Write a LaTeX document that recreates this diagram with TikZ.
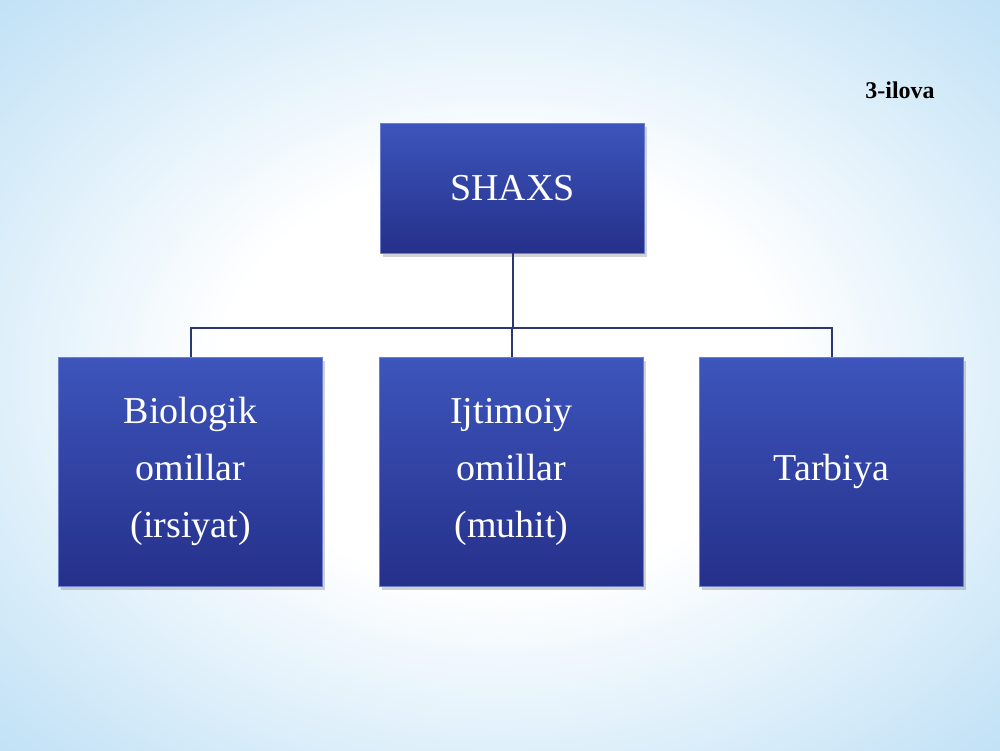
\documentclass[tikz,border=0pt]{standalone}
\usepackage{fontspec}
\setmainfont{Liberation Serif}
\usetikzlibrary{shadows}
\definecolor{fonko}{HTML}{9FD1F1}
\definecolor{qutiyuq}{HTML}{3D55BC}
\definecolor{qutipast}{HTML}{25308A}
\definecolor{chiziq}{HTML}{2B3675}
\pgfdeclareradialshading{fon}{\pgfpoint{0bp}{0bp}}{color(0bp)=(white); color(14bp)=(white); color(32bp)=(fonko!55); color(50bp)=(fonko); color(100bp)=(fonko)}
\tikzset{
  quti/.style={rectangle, draw=qutiyuq!75!white, line width=0.4pt, top color=qutiyuq, bottom color=qutipast,
    text=white, align=center, font=\fontsize{19}{28.5}\selectfont, minimum width=132pt,
    drop shadow={opacity=0.35, shadow xshift=1.2pt, shadow yshift=-1.8pt}},
  tarmoq/.style={chiziq, line width=1pt}
}
\begin{document}
\begin{tikzpicture}[x=0.5pt,y=-0.5pt]
        \useasboundingbox (0,0) rectangle (1000,750);
        \shade[shading=fon] (0,0) rectangle (1000,750); % fon
        \node[font=\bfseries\fontsize{12}{14}\selectfont] (ilova) at (900,90) {3-ilova};
        \node[quti, minimum height=65pt] (shaxs) at (512.5,188) {SHAXS};
        \node[quti, minimum height=114.5pt] (bio) at (190.5,471.5) {Biologik\\omillar\\(irsiyat)};
        \node[quti, minimum height=114.5pt] (ijt) at (511.5,471.5) {Ijtimoiy\\omillar\\(muhit)};
        \node[quti, minimum height=114.5pt] (tarb) at (831.5,471.5) {Tarbiya};
        \coordinate (bus) at (512.5,328); % tarmoq
        \draw[tarmoq] (shaxs.south) -- (bus);
        \draw[tarmoq] (bio.north) |- (bus) -| (tarb.north);
        \draw[tarmoq] (ijt.north) -- (ijt.north |- bus);
        \end{tikzpicture}
\end{document}
